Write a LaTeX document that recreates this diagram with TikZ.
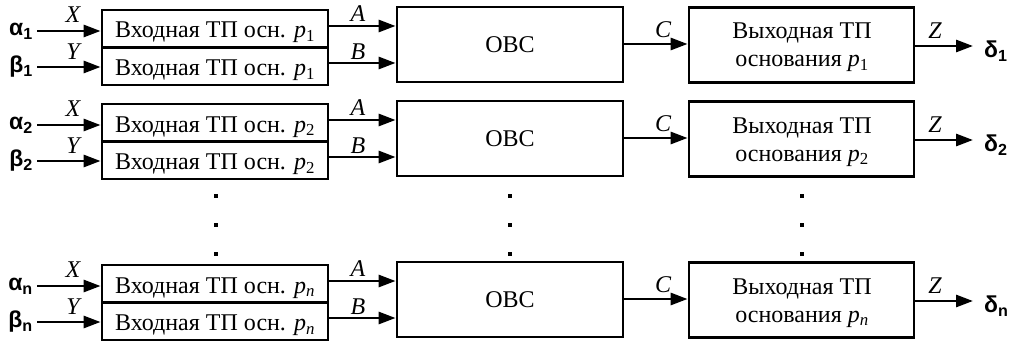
\documentclass[tikz,border=0pt]{standalone}
\usepackage{fontspec}
\setmainfont{Liberation Serif}
\newfontfamily\grk{Liberation Sans}
\usetikzlibrary{arrows.meta}
\tikzset{
  frame/.style={draw, line width=2.8pt, inner sep=0pt},
  half/.style={frame, minimum width=226pt, minimum height=37.5pt, text height=18.5pt, text depth=0pt, font=\fontsize{24}{28}\selectfont},
  big/.style={frame, minimum height=75pt, font=\fontsize{24}{28}\selectfont},
  txt/.style={inner sep=0pt, font=\fontsize{24}{28}\selectfont},
  arr/.style={line width=2.8pt, -{Triangle[length=17pt,width=12pt]}},
  lbl/.style={font=\fontsize{24}{28}\selectfont\itshape, inner sep=0pt},
  sig/.style={font=\fontsize{23}{26}\selectfont\grk\bfseries, inner sep=0pt},
  dotm/.style={fill, rectangle, minimum size=4pt, inner sep=0pt}
}
\begin{document}
\begin{tikzpicture}[x=1pt,y=-1pt]
\useasboundingbox (0,0) rectangle (1019,342);
\foreach \r/\o/\s/\g in {1/0/1/1,2/94/2/2,3/255/{\textit{n}}/n}{
  \node[half] (ia\r) at (215,28.75+\o) {Входная ТП осн. \textit{p}\textsubscript{\s}};
  \node[half] (ib\r) at (215,66.25+\o) {Входная ТП осн. \textit{p}\textsubscript{\s}};
  \node[big, minimum width=226pt, text height=16pt, text depth=0pt] (ob\r) at (510,44.5+\o) {ОВС};
  \node[big, minimum width=225pt] (ou\r) at (801.5,45+\o) {};
  \node[txt, anchor=base] (ot\r) at (802,39+\o) {Выходная ТП};
  \node[txt, anchor=base] (op\r) at (802,67+\o) {основания \textit{p}\textsubscript{\s}};
  \node[sig, anchor=east] (al\r) at (33,31+\o) {α\textsubscript{\g}};
  \node[sig, anchor=east] (be\r) at (33,67+\o) {β\textsubscript{\g}};
  \node[sig, anchor=west] (de\r) at (984,51+\o) {δ\textsubscript{\g}};
  \draw[arr] (al\r.east) ++(4,0) coordinate (xs\r) -- (xs\r -| ia\r.west);
  \draw[arr] (be\r.east) ++(4,0) coordinate (ys\r) -- (ys\r -| ib\r.west);
  \coordinate (ya\r) at (0,26+\o);
  \coordinate (yb\r) at (0,63+\o);
  \coordinate (yc\r) at (0,44+\o);
  \coordinate (yz\r) at (0,46+\o);
  \draw[arr] (ia\r.east |- ya\r) -- (ob\r.west |- ya\r);
  \draw[arr] (ib\r.east |- yb\r) -- (ob\r.west |- yb\r);
  \draw[arr] (ob\r.east |- yc\r) -- (ou\r.west |- yc\r);
  \coordinate (ze\r) at (973,46+\o);
  \draw[arr] (ou\r.east |- yz\r) -- (ze\r);
  \node[lbl] (lx\r) at (73,15+\o) {X};
  \node[lbl] (ly\r) at (73,52+\o) {Y};
  \node[lbl] (la\r) at (358,14+\o) {A};
  \node[lbl] (lb\r) at (358,52+\o) {B};
  \node[lbl] (lc\r) at (663,30+\o) {C};
  \node[lbl] (lz\r) at (935,31+\o) {Z};
}
\foreach \i/\y in {1/196,2/225,3/254}{
  \node[dotm] (dl\i) at (216,\y) {};
  \node[dotm] (dm\i) at (510,\y) {};
  \node[dotm] (dr\i) at (802,\y) {};
}
\end{tikzpicture}
\end{document}
